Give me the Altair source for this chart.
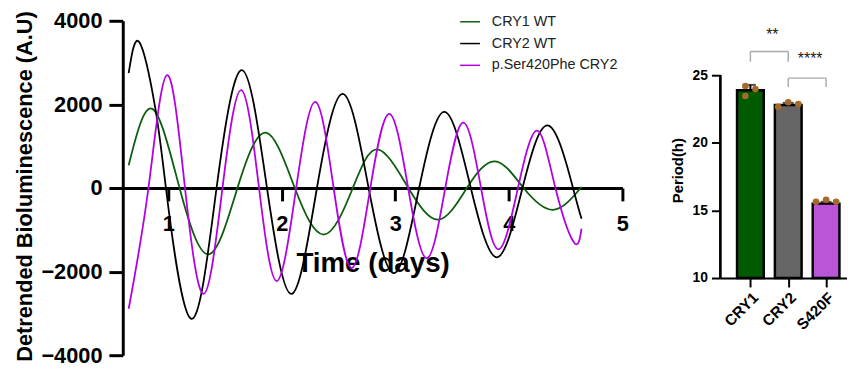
import altair as alt
import pandas as pd

FONT = "Liberation Sans"

# ---------------- line chart data ----------------
series_names = ["CRY1 WT", "CRY2 WT", "p.Ser420Phe CRY2"]
line_colors = ["#0b5e0b", "#000000", "#b300e6"]

cry1_t = [0.652, 0.86, 1.10, 1.357, 1.61, 1.86, 2.115, 2.374, 2.626, 2.843,
          3.115, 3.38, 3.63, 3.878, 4.13, 4.39, 4.64]
cry1_v = [544, 1893, 0, -1586, 0, 1325, 0, -1112, 0, 923,
          0, -757, 0, 639, 0, -521, 24]

cry2_t = [0.652, 0.748, 0.887, 0.98, 1.2, 1.426, 1.652, 1.87, 2.087, 2.31, 2.539,
          2.765, 2.99, 3.21, 3.435, 3.665, 3.896, 4.12, 4.35, 4.565, 4.64]
cry2_v = [2746, 3479, 1900, 0, -3125, 0, 2817, 0, -2533, 0, 2249,
          0, -2036, 0, 1822, 0, -1657, 0, 1491, 0, -734]

mut_t = [0.652, 0.826, 0.99, 1.148, 1.313, 1.478, 1.643, 1.80, 1.957, 2.127,
         2.296, 2.457, 2.617, 2.78, 2.948, 3.113, 3.278, 3.44, 3.6, 3.755,
         3.91, 4.08, 4.25, 4.41, 4.574, 4.64]
mut_v = [-2888, 0, 2700, 0, -2533, 0, 2343, 0, -2225, 0,
         2060, 0, -1917, 0, 1775, 0, -1680, 0, 1562, 0,
         -1467, 0, 1373, 0, -1302, -970]

x_ticks = [1, 2, 3, 4, 5]
y_ticks = [-4000, -2000, 0, 2000, 4000]

# ---------------- bar chart data ----------------
cats = ["CRY1", "CRY2", "S420F"]
bar_colors = ["#005a00", "#666666", "#bb55d8"]
means = [23.88, 22.8, 15.5]
errs = [0.4, 0.15, 0.13]
dot_cat = ["CRY1", "CRY1", "CRY1", "CRY2", "CRY2", "CRY2", "S420F", "S420F", "S420F"]
dot_slot = [-1, 1, -1, -2, 0, 2, -2, 0, 2]
dot_val = [24.19, 23.97, 23.46, 22.66, 23.0, 22.87, 15.63, 15.78, 15.63]
bar_ticks = [10, 15, 20, 25]

br_from = ["CRY1", "CRY2"]
br_to = ["CRY2", "S420F"]
br_top = [26.75, 24.78]
br_leg = [26.0, 24.12]
stars = ["**", "****"]
star_y = [27.6, 25.85]

# ---------------- tables ----------------
rows = []
for name, ts, vs in zip(series_names, [cry1_t, cry2_t, mut_t], [cry1_v, cry2_v, mut_v]):
    for t, v in zip(ts, vs):
        rows.append({"series": name, "t": t, "v": v})
lines_df = pd.DataFrame(rows)

pos_of = {c: i for i, c in enumerate(cats)}
bars_df = pd.DataFrame({"cat": cats, "pos": [pos_of[c] for c in cats],
                        "mean": means, "err": errs})
bars_df["lo"] = bars_df["mean"] - bars_df["err"]
bars_df["hi"] = bars_df["mean"] + bars_df["err"]
dots_df = pd.DataFrame({"cat": dot_cat, "pos": [pos_of[c] for c in dot_cat],
                        "slot": dot_slot, "val": dot_val})
hor_df = pd.DataFrame({"a": [pos_of[c] for c in br_from], "b": [pos_of[c] for c in br_to],
                       "top": br_top})
legs = []
for a, b, top, leg in zip(br_from, br_to, br_top, br_leg):
    legs.append({"pos": pos_of[a], "top": top, "leg": leg})
    legs.append({"pos": pos_of[b], "top": top, "leg": leg})
legs_df = pd.DataFrame(legs)
stars_df = pd.DataFrame({"mid": [(pos_of[a] + pos_of[b]) / 2 for a, b in zip(br_from, br_to)],
                         "txt": stars, "y": star_y})

# ---------------- left: time course ----------------
lines = alt.Chart(lines_df).mark_line(interpolate="natural", strokeWidth=1.8).encode(
    x=alt.X("t:Q",
            scale=alt.Scale(domain=[0.6, 5], nice=False, zero=False),
            axis=alt.Axis(values=x_ticks, offset=-169, title="Time (days)",
                          labelFlush=False,
                          titleFontSize=28, titleFontWeight="bold",
                          titleY=84, titleBaseline="alphabetic",
                          labelFontSize=22, labelFontWeight="bold",
                          labelBaseline="alphabetic", labelPadding=30,
                          tickSize=13, tickWidth=3, domainWidth=3,
                          domainColor="black", tickColor="black",
                          labelColor="black", titleColor="black")),
    y=alt.Y("v:Q",
            scale=alt.Scale(domain=[-4000, 4000], nice=False),
            axis=alt.Axis(values=y_ticks, format="d", title="Detrended Bioluminescence (A.U)",
                          titleFontSize=22, titleFontWeight="bold",
                          titleX=-99, titleY=167, titleBaseline="middle",
                          titleAngle=-90, titleAlign="center",
                          labelFontSize=22, labelFontWeight="bold", labelPadding=7,
                          tickSize=14, tickWidth=3, domainWidth=3,
                          domainColor="black", tickColor="black",
                          labelColor="black", titleColor="black")),
    color=alt.Color("series:N",
                    scale=alt.Scale(domain=series_names, range=line_colors),
                    legend=alt.Legend(title=None, orient="none", legendX=340, legendY=-10,
                                      symbolType="stroke", symbolSize=400,
                                      symbolStrokeWidth=1.5, labelFontSize=14.5,
                                      labelColor="#222222", labelOffset=11,
                                      rowPadding=4, padding=0)),
).properties(width=505, height=338)

# ---------------- right: period bars ----------------
label_expr = "[" + ",".join("'" + c + "'" for c in cats) + "][datum.value]"
xscale = alt.Scale(domain=[-0.663, 2.422], nice=False, zero=False)
xb = alt.X("pos:Q", scale=xscale,
           axis=alt.Axis(title=None, values=list(range(len(cats))), labelExpr=label_expr,
                         labelOverlap=False, labelFlush=False, offset=-78, labelAngle=-45,
                         labelAlign="right", labelBaseline="top", labelFontSize=15.5,
                         labelFontWeight="bold", labelPadding=3, tickSize=9, tickWidth=2,
                         domainWidth=2, domainColor="black", tickColor="black",
                         labelColor="black"))
yscale = alt.Scale(domain=[4.29, 29.02], nice=False, zero=False)

err_rule = alt.Chart(bars_df).mark_rule(color="black", strokeWidth=2).encode(
    x=xb,
    y=alt.Y("lo:Q", scale=yscale,
            axis=alt.Axis(values=bar_ticks, domain=False, title="Period(h)",
                          titleFontSize=15, titleFontWeight="bold",
                          titleX=-43, titleY=151, titleBaseline="middle",
                          titleAngle=-90, titleAlign="center",
                          labelFontSize=14, labelFontWeight="bold", labelPadding=4,
                          tickSize=9, tickWidth=2, tickColor="black",
                          labelColor="black", titleColor="black")),
    y2="hi:Q",
)
bars = alt.Chart(bars_df).mark_bar(stroke="black", strokeWidth=2.5, width=27).encode(
    x=alt.X("pos:Q", scale=xscale),
    y=alt.Y("mean:Q", scale=yscale),
    y2=alt.datum(10),
    color=alt.Color("cat:N", scale=alt.Scale(domain=cats, range=bar_colors), legend=None),
)
caps = alt.Chart(bars_df).mark_tick(color="black", thickness=2, size=11,
                                     orient="horizontal").encode(
    x=alt.X("pos:Q", scale=xscale), y=alt.Y("hi:Q", scale=yscale),
)
dots = alt.Chart(dots_df).transform_calculate(
    xp="datum.pos + datum.slot * 0.133"
).mark_circle(size=45, color="#a5692a", opacity=1).encode(
    x=alt.X("xp:Q", scale=xscale), y=alt.Y("val:Q", scale=yscale),
)
yaxis_line = alt.Chart(bars_df).mark_rule(color="black", strokeWidth=2).encode(
    x=alt.value(0), y=alt.datum(10), y2=alt.datum(25),
)
hor = alt.Chart(hor_df).mark_rule(color="#aaaaaa", strokeWidth=1.5).encode(
    x=alt.X("a:Q", scale=xscale), x2="b:Q", y=alt.Y("top:Q", scale=yscale),
)
legr = alt.Chart(legs_df).mark_rule(color="#aaaaaa", strokeWidth=1.5).encode(
    x=alt.X("pos:Q", scale=xscale), y=alt.Y("top:Q", scale=yscale), y2="leg:Q",
)
star_txt = alt.Chart(stars_df).mark_text(fontSize=16, color="#222222", dx=3,
                                          baseline="alphabetic").encode(
    x=alt.X("mid:Q", scale=xscale), y=alt.Y("y:Q", scale=yscale), text="txt:N",
)

right = alt.layer(err_rule, bars, caps, dots, yaxis_line, hor, legr, star_txt).properties(
    width=128, height=338)

chart = alt.hconcat(lines, right, spacing=42).resolve_scale(color="independent").properties(
    padding={"left": 5, "top": 0, "right": 0, "bottom": 0}
).configure(font=FONT).configure_view(stroke=None).configure_axis(grid=False)

chart.save("out.html", embed_options={"renderer": "svg", "actions": False})
